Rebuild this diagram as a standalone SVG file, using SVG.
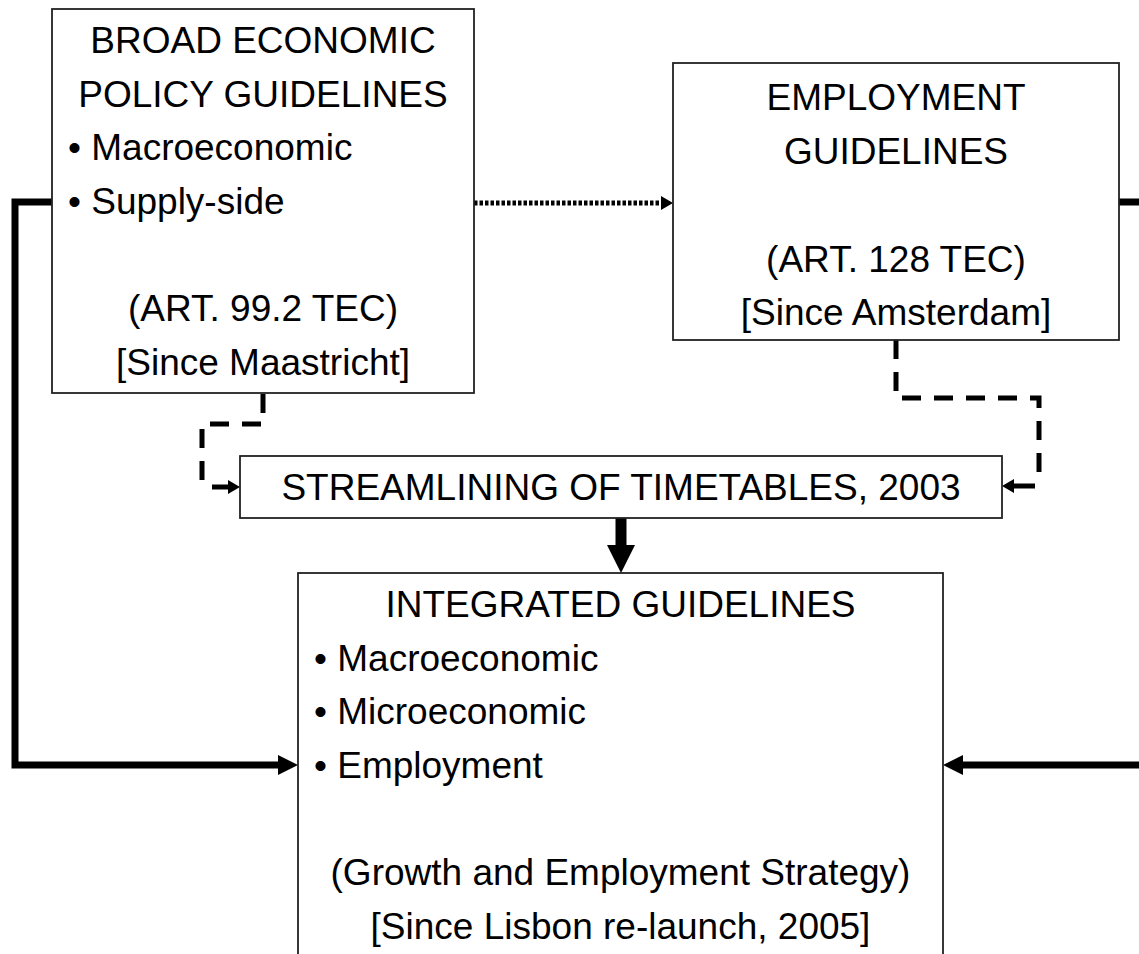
<svg xmlns="http://www.w3.org/2000/svg" width="1139" height="954" viewBox="0 0 1139 954">
<style>
.box{fill:#fff;stroke:#222;stroke-width:1.8}
.t{font-family:"Liberation Sans",Arial,sans-serif;font-size:37px;fill:#000}
.c{text-anchor:middle}
.thick{fill:none;stroke:#000;stroke-width:7;stroke-linejoin:miter}
.dash{fill:none;stroke:#000;stroke-width:5;stroke-dasharray:19 13}
.dot{fill:none;stroke:#000;stroke-width:5;stroke-dasharray:3.5 2}
.thin{fill:none;stroke:#000;stroke-width:5}
</style>
<defs>
<marker id="ah" viewBox="0 -10 20 20" refX="0" refY="0" markerWidth="20" markerHeight="20" markerUnits="userSpaceOnUse" orient="auto"><path d="M0,-10L20,0L0,10z" fill="#000"/></marker>
<marker id="big" viewBox="0 -14 28 28" refX="0" refY="0" markerWidth="28" markerHeight="28" markerUnits="userSpaceOnUse" orient="auto"><path d="M0,-14L28,0L0,14z" fill="#000"/></marker>
<marker id="sm" viewBox="0 -7 12 14" refX="0" refY="0" markerWidth="12" markerHeight="14" markerUnits="userSpaceOnUse" orient="auto"><path d="M0,-7L12,0L0,7z" fill="#000"/></marker>
</defs>
<g id="connectors">
<path class="thick" d="M52,202H15V765H278" marker-end="url(#ah)"/>
<path class="thick" d="M1119,202H1150V765H963" marker-end="url(#ah)"/>
<path d="M621,518V545" stroke="#000" stroke-width="11" fill="none" marker-end="url(#big)"/>
<path class="dot" d="M474,203H661" marker-end="url(#sm)"/>
<path class="dash" d="M263,394V424H202V488"/>
<path class="thin" d="M212,487H228" marker-end="url(#sm)"/>
<path class="dash" d="M896,340V398H1039V478"/>
<path class="thin" d="M1035,486H1014" marker-end="url(#sm)"/>
</g>
<g id="bepg">
<rect class="box" x="52" y="9" width="422" height="384"/>
<text class="t c" x="263" y="53">BROAD ECONOMIC</text>
<text class="t c" x="263" y="107">POLICY GUIDELINES</text>
<text class="t" x="68" y="160">• Macroeconomic</text>
<text class="t" x="68" y="214">• Supply-side</text>
<text class="t c" x="263" y="321">(ART. 99.2 TEC)</text>
<text class="t c" x="263" y="375">[Since Maastricht]</text>
</g>
<g id="employment">
<rect class="box" x="673" y="63" width="446" height="277"/>
<text class="t c" x="896" y="110">EMPLOYMENT</text>
<text class="t c" x="896" y="164">GUIDELINES</text>
<text class="t c" x="896" y="272">(ART. 128 TEC)</text>
<text class="t c" x="896" y="325">[Since Amsterdam]</text>
</g>
<g id="streamlining">
<rect class="box" x="240" y="456" width="762" height="62"/>
<text class="t c" x="621" y="500">STREAMLINING OF TIMETABLES, 2003</text>
</g>
<g id="integrated">
<rect class="box" x="298" y="573" width="645" height="400"/>
<text class="t c" x="620.5" y="617">INTEGRATED GUIDELINES</text>
<text class="t" x="314" y="671">• Macroeconomic</text>
<text class="t" x="314" y="724">• Microeconomic</text>
<text class="t" x="314" y="778">• Employment</text>
<text class="t c" x="620.5" y="885">(Growth and Employment Strategy)</text>
<text class="t c" x="620.5" y="939">[Since Lisbon re-launch, 2005]</text>
</g>
</svg>
